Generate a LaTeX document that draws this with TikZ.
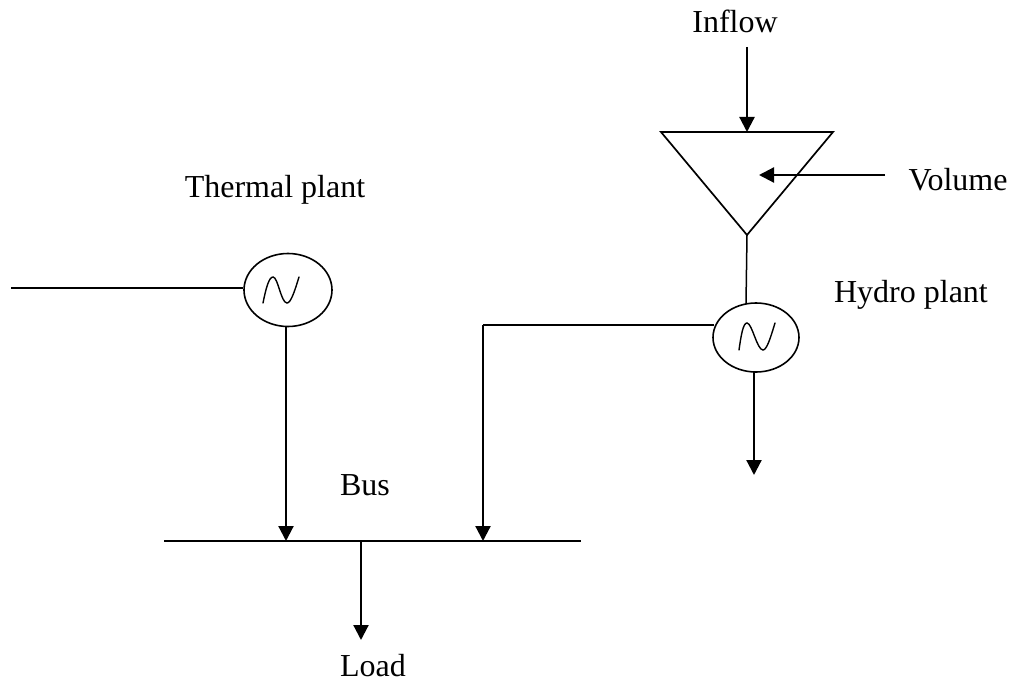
\documentclass[tikz,border=0pt]{standalone}
\usepackage{fontspec}
\setmainfont{Liberation Serif}
\usetikzlibrary{arrows.meta,shapes.geometric}
\tikzset{
  wire/.style={line width=1.7pt,line cap=butt},
  thin wire/.style={line width=1.5pt},
  arrow/.style={line width=2.2pt,line cap=butt,-{Triangle[length=15pt,width=15pt]}},
  gen/.style={ellipse,draw,line width=1.6pt,inner sep=0pt},
  wave/.style={line width=1.4pt,line cap=round},
  lab/.style={font=\fontsize{32pt}{34pt}\selectfont,inner sep=0pt,anchor=base}
}
\begin{document}
\begin{tikzpicture}[x=1pt,y=-1pt]
\useasboundingbox (0,0) rectangle (1013,682);
\node[gen,minimum width=88pt,minimum height=73pt] (g1) at (288,290) {};
\node[gen,minimum width=86pt,minimum height=69pt] (g2) at (756,337.5) {};
\draw[line width=1.7pt,line join=miter] (661,132) coordinate (ta) -- (833,132) coordinate (tb) -- (747,235) coordinate (tc) -- cycle;
\coordinate (top1) at (747,132);
\coordinate (infl) at (747,47);
\draw[arrow] (infl) -- (top1);
\coordinate (v1) at (885,175);
\coordinate (v2) at (759,175);
\draw[arrow] (v1) -- (v2);
\coordinate (t2) at (746,304);
\draw[thin wire] (tc) -- (t2);
\coordinate (th) at (11,288);
\draw[thin wire] (th) -- (g1.west |- th);
\coordinate (b1) at (164,541);
\coordinate (b2) at (581,541);
\draw[wire] (b1) -- (b2);
\coordinate (b3) at (286,541);
\draw[arrow] (286,327) -- (b3);
\coordinate (c1) at (483,325);
\coordinate (b4) at (483,541);
\draw[thin wire] (714,325) -- (c1);
\draw[arrow] (c1) -- (b4);
\coordinate (h1) at (754,372);
\coordinate (h2) at (754,475);
\draw[arrow] (h1) -- (h2);
\coordinate (l1) at (361,541);
\coordinate (l2) at (361,640);
\draw[arrow] (l1) -- (l2);
\draw[wave] (263,303) .. controls (266,288) and (269,277) .. (273,277) .. controls (278,277) and (281,303) .. (287,303) .. controls (291,303) and (295,290) .. (299,277);
\draw[wave] (739,350) .. controls (741,336) and (743,323) .. (747,323) .. controls (752,323) and (757,350) .. (763,350) .. controls (767,350) and (771,336) .. (775,323);
\node[lab] (a) at (735,33) {Inflow};
\node[lab] (b) at (958,191) {Volume};
\node[lab] (c) at (275,197) {Thermal plant};
\node[lab] (d) at (911,302) {Hydro plant};
\node[lab] (e) at (365,495) {Bus};
\node[lab] (f) at (373,676) {Load};
\end{tikzpicture}
\end{document}
